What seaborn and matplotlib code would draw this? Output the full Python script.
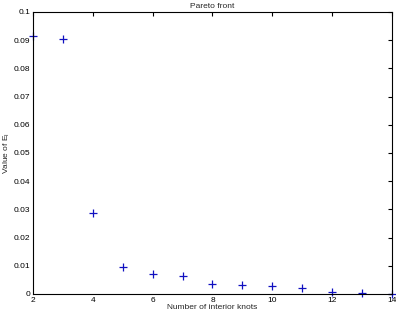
import matplotlib
matplotlib.use("Agg")
import matplotlib.pyplot as plt
import seaborn as sns
import pandas as pd

knots = [2, 3, 4, 5, 6, 7, 8, 9, 10, 11, 12, 13, 14]
values = [0.0915, 0.0904, 0.0287, 0.0096, 0.0072, 0.0063, 0.0034, 0.0032,
          0.0028, 0.0021, 0.0006, 0.0003, 0.0001]
xticks = [2, 4, 6, 8, 10, 12, 14]
yticks = [0, 0.01, 0.02, 0.03, 0.04, 0.05, 0.06, 0.07, 0.08, 0.09, 0.1]
ytick_labels = ["0", "0.01", "0.02", "0.03", "0.04", "0.05", "0.06", "0.07", "0.08", "0.09", "0.1"]

sns.set_style("white")
plt.rcParams['font.family'] = ['Liberation Sans', 'DejaVu Sans']
plt.rcParams['mathtext.fontset'] = 'custom'
plt.rcParams['mathtext.rm'] = 'Liberation Sans'
plt.rcParams['mathtext.it'] = 'Liberation Sans'

df = pd.DataFrame({"knots": knots, "value": values})

fig = plt.figure(figsize=(3.96, 3.14), dpi=100)
ax = fig.add_axes([0.0833, 0.0637, 0.9066, 0.8981])
sns.scatterplot(data=df, x="knots", y="value", marker="+", color="#1010c0",
                s=26, linewidth=0.9, ax=ax, legend=False, clip_on=False)
ax.set_xlim(2, 14)
ax.set_ylim(0, 0.1)
ax.set_xticks(xticks)
ax.set_xticklabels([str(t) for t in xticks])
ax.set_yticks(yticks)
ax.set_yticklabels(ytick_labels)
ax.tick_params(direction="in", length=3, width=0.8, labelsize=6, top=True, right=True,
               pad=2, colors="black")
for s in ax.spines.values():
    s.set_linewidth(0.8)
    s.set_color("black")
ax.set_xlabel("Number of interior knots", fontsize=6, labelpad=0)
ax.set_ylabel("Value of $E_I$", fontsize=6, labelpad=1)
ax.set_title("Pareto front", fontsize=6, pad=3)
fig.savefig("out.png", dpi=100)
